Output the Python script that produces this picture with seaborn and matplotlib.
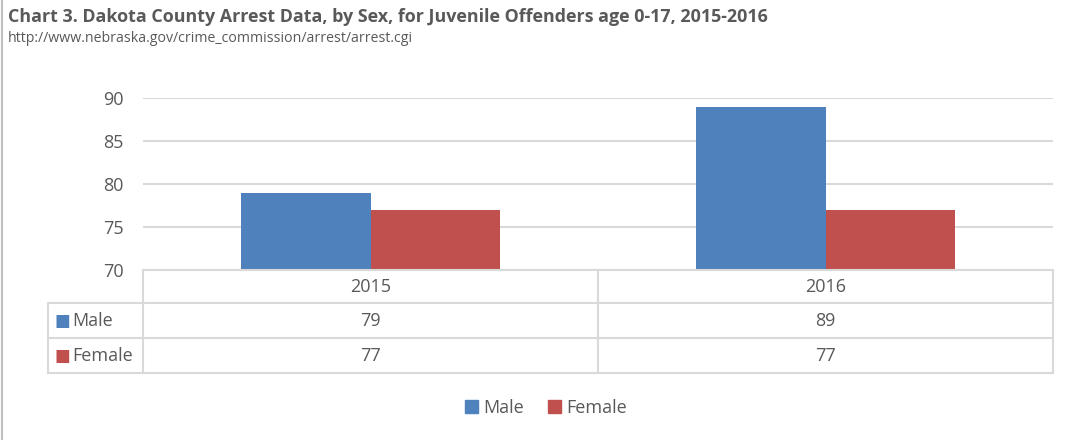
import seaborn as sns
import matplotlib.pyplot as plt
import pandas as pd
from matplotlib.lines import Line2D
from matplotlib.patches import Patch

years = ["2015", "2016"]
sexes = ["Male", "Female"]
male = [79, 89]
female = [77, 77]
colors = {"Male": "#4F81BD", "Female": "#C0504D"}

df = pd.DataFrame({
    "year": years * 2,
    "sex": ["Male"] * len(years) + ["Female"] * len(years),
    "arrests": male + female,
})

sns.set_style("white")
plt.rcParams["font.family"] = ["Open Sans", "DejaVu Sans"]
txt = "#595959"
grid = "#D9D9D9"

W, H = 1073, 440
fig = plt.figure(figsize=(W / 100, H / 100), dpi=100)
ax = fig.add_axes([143 / W, 1 - 270 / H, (1053 - 143) / W, (270 - 98) / H])

sns.barplot(data=df, x="year", y="arrests", hue="sex", palette=colors,
            width=0.57, ax=ax, saturation=1, legend=False, linewidth=0)
ax.set_ylim(70, 90)
ax.set_yticks([70, 75, 80, 85, 90])
ax.yaxis.grid(True, color=grid, linewidth=1.5)
ax.set_axisbelow(True)
for s in ax.spines.values():
    s.set_visible(False)
ax.tick_params(axis="y", length=0, pad=14, labelsize=13, labelcolor=txt)
ax.set_xticks([])
ax.set_xlabel("")
ax.set_ylabel("")

# data table under the plot
def fx(px):
    return px / W

def fy(py):
    return 1 - py / H

rows = [270, 303, 338, 373]
cols = [143, 598, 1053]
lw = 1.5
for y in rows:
    x0 = 143 if y == 270 else 48
    fig.add_artist(Line2D([fx(x0), fx(1053)], [fy(y), fy(y)], color=grid, lw=lw))
for x in cols:
    fig.add_artist(Line2D([fx(x), fx(x)], [fy(270), fy(373)], color=grid, lw=lw))
fig.add_artist(Line2D([fx(48), fx(48)], [fy(303), fy(373)], color=grid, lw=lw))

for i, yr in enumerate(years):
    cx = (cols[i] + cols[i + 1]) / 2
    fig.text(fx(cx), fy((rows[0] + rows[1]) / 2), yr, ha="center", va="center", fontsize=13, color=txt)
    fig.text(fx(cx), fy((rows[1] + rows[2]) / 2), str(male[i]), ha="center", va="center", fontsize=13, color=txt)
    fig.text(fx(cx), fy((rows[2] + rows[3]) / 2), str(female[i]), ha="center", va="center", fontsize=13, color=txt)

for j, sx in enumerate(sexes):
    yc = (rows[j + 1] + rows[j + 2]) / 2
    fig.text(fx(54), fy(yc), "\u25A0", ha="left", va="center", fontsize=12, color=colors[sx],
             family=["DejaVu Sans"])
    fig.text(fx(72), fy(yc), sx, ha="left", va="center", fontsize=13, color=txt)

handles = [Patch(color=colors[s], label=s) for s in sexes]
fig.legend(handles=handles, loc="center", bbox_to_anchor=(546 / W, fy(408)), ncol=2, frameon=False,
           fontsize=13, labelcolor=txt, handlelength=0.75, handleheight=0.75, handletextpad=0.3,
           columnspacing=1.3)

fig.text(fx(8), fy(17), "Chart 3. Dakota County Arrest Data, by Sex, for Juvenile Offenders age 0-17, 2015-2016",
         ha="left", va="center", fontsize=12.9, fontweight="bold", color=txt)
fig.text(fx(8), fy(38), "http://www.nebraska.gov/crime_commission/arrest/arrest.cgi",
         ha="left", va="center", fontsize=10.2, color=txt)

fig.add_artist(Line2D([fx(2), fx(2)], [0, 1], color="#BFBFBF", lw=1.5))

fig.savefig("out.png", dpi=100)
